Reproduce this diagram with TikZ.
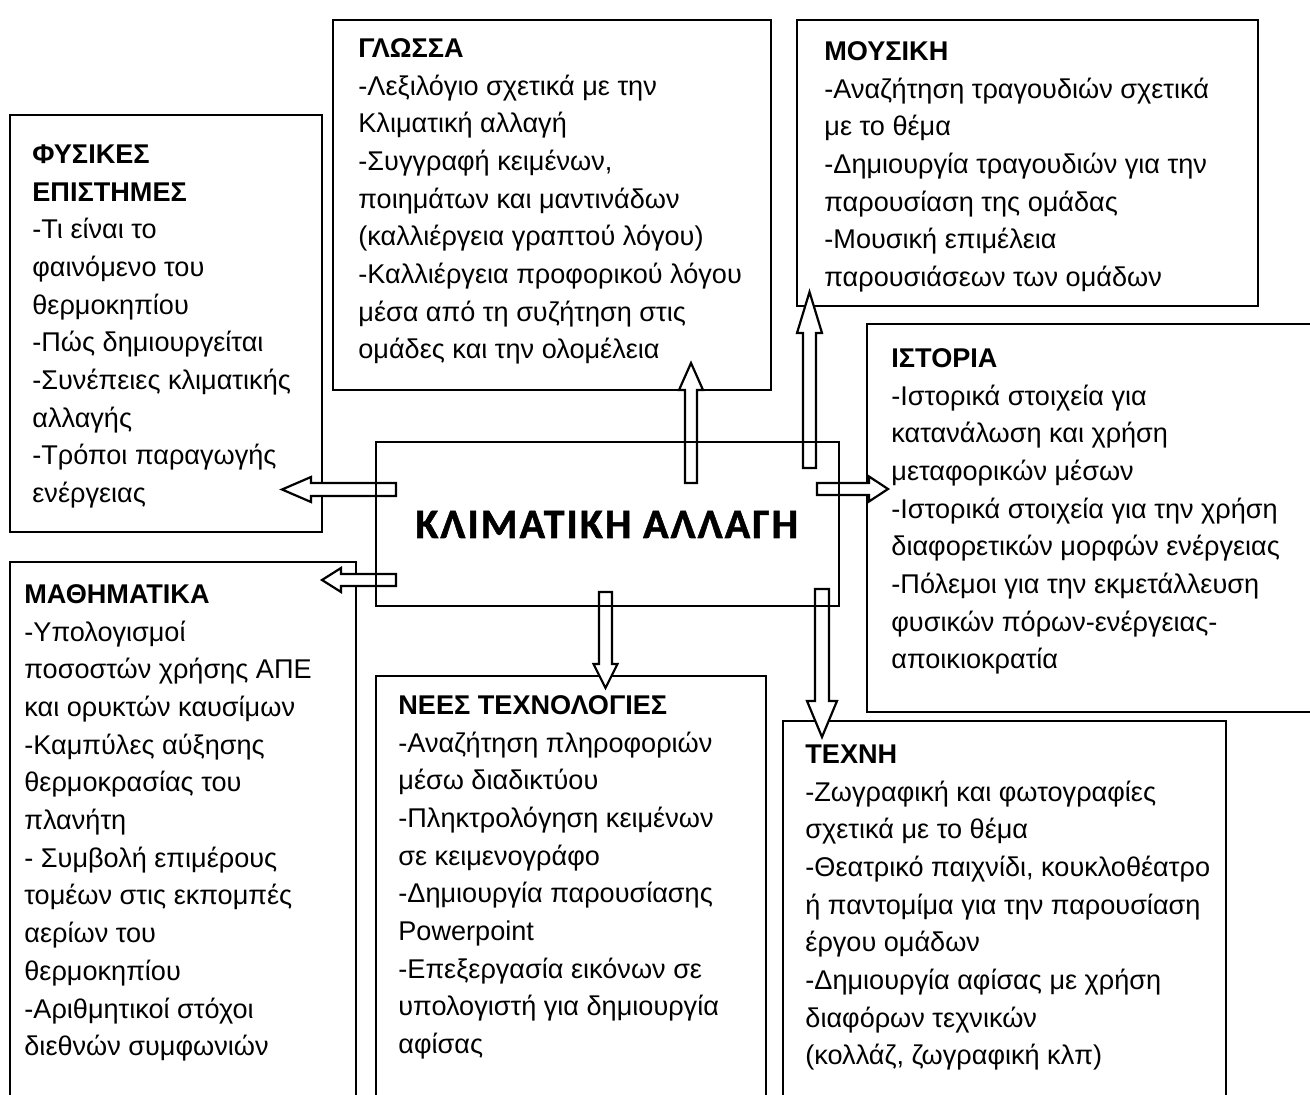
\documentclass[tikz,border=0pt]{standalone}
\usepackage{fontspec}
\setmainfont{Liberation Sans}
\newfontfamily\titlefont{Carlito}[LetterSpace=5, BoldFeatures={FakeBold=1.2}]

\tikzset{
  boxline/.style={line width=1.1pt},
  arrowbody/.style={line width=1.1pt, fill=white, line join=miter},
  subject/.style={inner sep=0pt, align=left, anchor=north west,
    font=\fontsize{13.55}{18.85}\selectfont},
}
% tail, angle, length, shaft half, head half, head length
\newcommand{\blockarrow}[6]{%
  \draw[arrowbody, shift={(#1)}, rotate=#2] (0,-#4) -- (#3-#6,-#4) -- (#3-#6,-#5)
    -- (#3,0) -- (#3-#6,#5) -- (#3-#6,#4) -- (0,#4) -- cycle;}

\begin{document}
\begin{tikzpicture}[x=0.5pt,y=-0.5pt]
\useasboundingbox (0,0) rectangle (1310,1095);
\clip (0,0) rectangle (1310,1095);

% subject boxes
\draw[boxline] (10,115) rectangle (322,532);
\draw[boxline] (333,20) rectangle (771,390);
\draw[boxline] (797,20) rectangle (1258,306);
\draw[boxline] (1320,324) -- (867,324) -- (867,712) -- (1320,712);
\draw[boxline] (10,1110) |- (356,562) -- (356,1110);
\draw[boxline] (376,1110) |- (766,676) -- (766,1110);
\draw[boxline] (783,1110) |- (1226,721) -- (1226,1110);

\node[subject] (fys) at (32,136.6) {\strut\textbf{ΦΥΣΙΚΕΣ}\\ \textbf{ΕΠΙΣΤΗΜΕΣ}\\
  -Τι είναι το\\ φαινόμενο του\\ θερμοκηπίου\\ -Πώς δημιουργείται\\
  -Συνέπειες κλιματικής\\ αλλαγής\\ -Τρόποι παραγωγής\\ ενέργειας};
\node[subject] (glo) at (358,30.6) {\strut\textbf{ΓΛΩΣΣΑ}\\
  -Λεξιλόγιο σχετικά με την\\ Κλιματική αλλαγή\\ -Συγγραφή κειμένων,\\
  ποιημάτων και μαντινάδων\\ (καλλιέργεια γραπτού λόγου)\\
  -Καλλιέργεια προφορικού λόγου\\ μέσα από τη συζήτηση στις\\
  ομάδες και την ολομέλεια};
\node[subject] (mus) at (824,33.6) {\strut\textbf{ΜΟΥΣΙΚΗ}\\
  -Αναζήτηση τραγουδιών σχετικά\\ με το θέμα\\
  -Δημιουργία τραγουδιών για την\\ παρουσίαση της ομάδας\\
  -Μουσική επιμέλεια\\ παρουσιάσεων των ομάδων};
\node[subject] (ist) at (891,340.6) {\strut\textbf{ΙΣΤΟΡΙΑ}\\
  -Ιστορικά στοιχεία για\\ κατανάλωση και χρήση\\ μεταφορικών μέσων\\
  -Ιστορικά στοιχεία για την χρήση\\ διαφορετικών μορφών ενέργειας\\
  -Πόλεμοι για την εκμετάλλευση\\ φυσικών πόρων-ενέργειας-\\ αποικιοκρατία};
\node[subject] (mat) at (24,576.6) {\strut\textbf{ΜΑΘΗΜΑΤΙΚΑ}\\
  -Υπολογισμοί\\ ποσοστών χρήσης ΑΠΕ\\ και ορυκτών καυσίμων\\
  -Καμπύλες αύξησης\\ θερμοκρασίας του\\ πλανήτη\\ - Συμβολή επιμέρους\\
  τομέων στις εκπομπές\\ αερίων του\\ θερμοκηπίου\\ -Αριθμητικοί στόχοι\\
  διεθνών συμφωνιών};
\node[subject] (tech) at (398,687.6) {\strut\textbf{ΝΕΕΣ ΤΕΧΝΟΛΟΓΙΕΣ}\\
  -Αναζήτηση πληροφοριών\\ μέσω διαδικτύου\\ -Πληκτρολόγηση κειμένων\\
  σε κειμενογράφο\\ -Δημιουργία παρουσίασης\\ Powerpoint\\
  -Επεξεργασία εικόνων σε\\ υπολογιστή για δημιουργία\\ αφίσας};
\node[subject] (art) at (805,736.6) {\strut\textbf{ΤΕΧΝΗ}\\
  -Ζωγραφική και φωτογραφίες\\ σχετικά με το θέμα\\
  -Θεατρικό παιχνίδι, κουκλοθέατρο\\ ή παντομίμα για την παρουσίαση\\
  έργου ομάδων\\ -Δημιουργία αφίσας με χρήση\\ διαφόρων τεχνικών\\
  (κολλάζ, ζωγραφική κλπ)};

% arrows out of the centre
\coordinate (a-fys) at (396,489.5);
\coordinate (a-mat) at (396,580);
\coordinate (a-glo) at (691,483);
\coordinate (a-mus) at (809.5,468);
\coordinate (a-ist) at (817,489);
\coordinate (a-tech) at (605.5,592);
\coordinate (a-art) at (822,589);
\blockarrow{a-fys}{180}{114}{6.5}{12.5}{29}
\blockarrow{a-mat}{180}{74}{6}{12}{19}
\blockarrow{a-glo}{90}{120}{6}{12}{27}
\blockarrow{a-mus}{90}{176}{6.5}{12.5}{41}
\blockarrow{a-ist}{0}{71}{6}{12.5}{19}
\blockarrow{a-tech}{-90}{96}{6.5}{12}{24}
\blockarrow{a-art}{-90}{148}{7}{15}{36}

% centre
\draw[boxline] (376,442) rectangle (839,606);
\node[anchor=base west, inner sep=0pt, font=\titlefont\bfseries\fontsize{21}{25}\selectfont]
  (klima) at (415,538) {ΚΛΙΜΑΤΙΚΗ ΑΛΛΑΓΗ};
\end{tikzpicture}
\end{document}
